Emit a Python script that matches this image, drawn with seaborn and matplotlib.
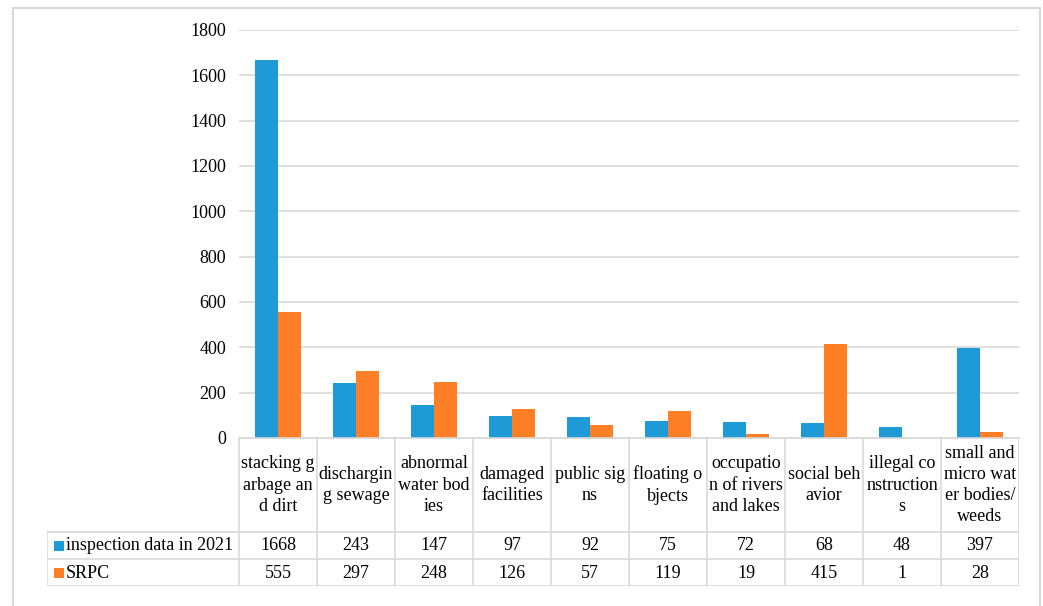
import matplotlib
matplotlib.use("Agg")
import matplotlib.pyplot as plt
from matplotlib.patches import Rectangle
import seaborn as sns
import pandas as pd

# Categories of detected river/lake problems
categories = [
    "stacking garbage and dirt", "discharging sewage", "abnormal water bodies",
    "damaged facilities", "public signs", "floating objects",
    "occupation of rivers and lakes", "social behavior", "illegal constructions",
    "small and micro water bodies/weeds",
]
# Header text as wrapped in the data-table cells
header_labels = [
    "stacking g\narbage an\nd dirt", "dischargin\ng sewage", "abnormal\nwater bod\nies",
    "damaged\nfacilities", "public sig\nns", "floating o\nbjects",
    "occupatio\nn of rivers\nand lakes", "social beh\navior", "illegal co\nnstruction\ns",
    "small and\nmicro wat\ner bodies/\nweeds",
]
series_names = ["inspection data in 2021", "SRPC"]
inspection_2021 = [1668, 243, 147, 97, 92, 75, 72, 68, 48, 397]
srpc = [555, 297, 248, 126, 57, 119, 19, 415, 1, 28]
y_ticks = [0, 200, 400, 600, 800, 1000, 1200, 1400, 1600, 1800]

colors = ["#1E9BD7", "#FF7F27"]
grid_c = "#D9D9D9"
text_c = "#000000"

sns.set_theme(style="white")
plt.rcParams["font.family"] = "serif"
plt.rcParams["font.serif"] = ["Liberation Serif", "DejaVu Serif"]
FS = 13

df = pd.DataFrame({
    "category": categories * 2,
    "series": [series_names[0]] * len(categories) + [series_names[1]] * len(categories),
    "value": inspection_2021 + srpc,
})

W, H = 1043, 606
fig = plt.figure(figsize=(W / 100, H / 100), dpi=100)

# outer chart frame
fig.add_artist(Rectangle((13 / W, -0.05), (1040 - 13) / W, 1.05 - 8 / H,
                         transform=fig.transFigure, fill=False,
                         edgecolor=grid_c, lw=1.5))

ax_l, ax_r = 239 / W, 1019 / W
ax = fig.add_axes([ax_l, 1 - 438 / H, ax_r - ax_l, (438 - 30) / H])
sns.barplot(data=df, x="category", y="value", hue="series", order=categories,
            hue_order=series_names, palette=colors, saturation=1, width=0.6,
            gap=0, linewidth=0, legend=False, ax=ax)
ax.set_xlim(-0.5, len(categories) - 0.5)
ax.set_ylim(0, 1800)
ax.set_yticks(y_ticks)
ax.set_yticklabels([str(v) for v in y_ticks], fontsize=FS, color=text_c)
ax.tick_params(axis="y", length=0, pad=9)
ax.set_xticks([])
ax.set_xlabel("")
ax.set_ylabel("")
ax.yaxis.grid(True, color=grid_c, lw=1.2)
ax.set_axisbelow(True)
for s in ["left", "right", "top"]:
    ax.spines[s].set_visible(False)
ax.spines["bottom"].set_color(grid_c)
ax.spines["bottom"].set_linewidth(1.2)

# data table under the axis
n = len(categories)
cat_px = (1019 - 239) / n
left_units = (239 - 47) / cat_px
tx0 = 47 / W
tab = fig.add_axes([tx0, 1 - 586 / H, ax_r - tx0, (586 - 438) / H])
tab.set_xlim(-0.5 - left_units, n - 0.5)
tab.set_ylim(148, 0)
tab.axis("off")
x_left = -0.5 - left_units
rows_y = [0, 94, 121, 148]
lw = 1.2
# horizontal lines
tab.plot([-0.5, n - 0.5], [0, 0], color=grid_c, lw=lw)
for yy in rows_y[1:]:
    tab.plot([x_left, n - 0.5], [yy, yy], color=grid_c, lw=lw)
# vertical lines
for i in range(n + 1):
    tab.plot([i - 0.5, i - 0.5], [0, 148], color=grid_c, lw=lw)
tab.plot([x_left, x_left], [94, 148], color=grid_c, lw=lw)

for i, lab in enumerate(header_labels):
    tab.text(i, 47, lab, ha="center", va="center", fontsize=FS,
             color=text_c, linespacing=1.32)
for r, (name, vals, col) in enumerate(zip(series_names, [inspection_2021, srpc], colors)):
    yc = (rows_y[r + 1] + rows_y[r + 2]) / 2
    for i, v in enumerate(vals):
        tab.text(i, yc + 0.5, str(v), ha="center", va="center", fontsize=FS, color=text_c)
    mx = x_left + 7 / cat_px
    tab.add_patch(Rectangle((mx, yc - 5), 10 / cat_px, 10, color=col, lw=0))
    tab.text(x_left + 19 / cat_px, yc + 0.5, name, ha="left", va="center",
             fontsize=FS, color=text_c)

fig.savefig("out.png", dpi=100)
